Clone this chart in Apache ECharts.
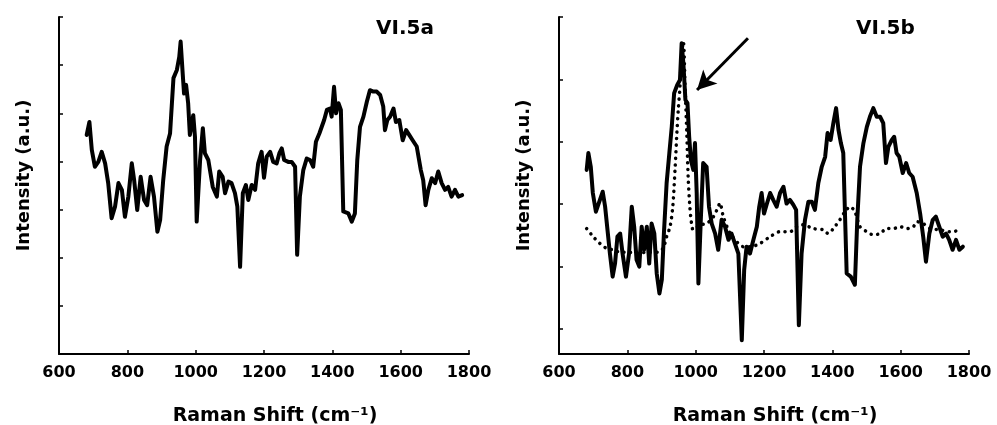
<!DOCTYPE html>
<html>
<head>
<meta charset="utf-8">
<script src="https://cdn.jsdelivr.net/npm/echarts@6/dist/echarts.min.js"></script>
<style>
  html, body { margin: 0; padding: 0; background: #fff; }
  #chart { width: 997px; height: 425px; }
</style>
</head>
<body>
<div id="chart"></div>
<script>
// Panel VI.5a: Raman spectrum (cm-1) and intensity (a.u.)
const shiftA = [681,689,696,705,715,725,735,744,754,764,774,784,793,803,813,820,829,839,849,858,868,878,888,896,905,915,925,935,945,952,956,962,966,972,978,983,993,998,1003,1013,1021,1027,1037,1050,1062,1069,1079,1086,1096,1105,1115,1122,1130,1138,1147,1154,1164,1174,1183,1193,1200,1208,1218,1227,1237,1245,1252,1259,1271,1281,1291,1297,1305,1315,1325,1335,1344,1352,1362,1369,1376,1384,1393,1398,1405,1411,1418,1425,1432,1447,1457,1466,1473,1481,1491,1501,1510,1520,1530,1540,1549,1554,1561,1569,1579,1586,1596,1606,1616,1625,1635,1647,1659,1666,1673,1681,1691,1701,1710,1720,1730,1739,1749,1759,1769,1780];
const intensityA = [455,482,424,389,399,420,396,355,282,306,355,341,285,327,396,361,299,368,320,309,368,327,254,278,361,431,458,573,590,617,649,583,541,559,521,455,496,451,275,403,469,417,403,347,327,379,368,334,358,355,334,306,181,334,351,320,351,341,396,420,366,410,420,399,396,417,427,403,399,399,389,206,327,382,406,403,389,441,458,472,486,507,510,493,555,500,521,507,296,292,275,292,403,472,493,524,548,545,545,538,514,465,486,493,510,482,486,444,465,455,444,431,382,361,309,341,365,355,379,355,341,347,327,341,327,330];

// Panel VI.5b: sample spectrum (solid)
const shiftB = [681,686,693,699,708,718,728,735,743,749,757,764,771,779,786,796,805,813,820,827,835,842,849,857,864,871,879,886,894,901,907,915,923,930,937,946,954,959,964,970,976,981,986,993,998,1003,1008,1015,1022,1032,1039,1047,1057,1066,1076,1086,1096,1105,1115,1125,1135,1142,1149,1159,1169,1179,1186,1193,1200,1208,1218,1227,1237,1247,1257,1266,1276,1286,1294,1302,1310,1320,1330,1340,1349,1359,1369,1379,1386,1395,1403,1411,1418,1425,1432,1442,1454,1466,1473,1481,1491,1501,1510,1520,1530,1540,1549,1557,1564,1574,1581,1588,1596,1606,1616,1625,1635,1647,1657,1666,1674,1684,1694,1703,1713,1723,1733,1742,1752,1762,1772,1782];
const intensityB = [295,322,300,258,228,244,260,236,193,161,124,145,188,193,161,124,161,236,204,151,140,204,167,204,145,209,193,129,97,119,193,274,322,364,418,431,439,498,466,407,402,348,311,295,338,258,113,215,306,300,236,209,193,167,215,204,183,193,177,161,22,135,172,161,183,204,236,258,225,240,258,247,236,258,268,241,247,239,231,46,161,215,244,244,231,274,300,316,354,343,370,394,359,338,322,129,124,111,215,300,338,364,380,394,380,380,370,306,332,343,348,322,316,290,306,290,284,258,225,188,148,193,215,220,204,188,193,183,167,183,167,172];

// Panel VI.5b: reference spectrum (dotted)
const shiftRef = [681,700,720,740,759,780,800,830,860,890,905,915,925,933,940,945,949,954,959,964,969,974,978,983,988,993,1013,1032,1052,1066,1071,1081,1100,1120,1139,1159,1188,1218,1247,1276,1296,1315,1344,1374,1388,1403,1422,1437,1452,1466,1481,1501,1520,1540,1559,1579,1598,1618,1637,1647,1666,1686,1715,1744,1774];
const intensityRef = [201,188,177,169,167,163,163,162,163,163,170,188,204,236,300,354,391,428,482,500,428,354,284,236,209,199,207,209,220,236,242,220,194,180,172,172,177,188,196,196,204,207,201,199,193,201,215,228,236,228,204,196,191,193,201,201,204,201,204,212,209,201,199,196,198];

// Arrow pointing at the 960 cm-1 band in VI.5b (data coordinates)
const arrowFrom = [1153, 506];
const arrowTo = [1004, 423];

const panelTitles = ['VI.5a', 'VI.5b'];
const xTicks = { min: 600, max: 1800, step: 200 };
const yTicksA = { min: 0, max: 700, step: 100 };
const yRangeB = { min: 0, max: 540 };
const yTickValuesB = [40, 140, 240, 340, 440, 540];

const FONT = 'DejaVu Sans';
const pairs = (xs, ys) => xs.map((x, i) => [x, ys[i]]);

const axisLine = { show: true, onZero: false, lineStyle: { color: '#000', width: 2 } };
const tick = { show: true, inside: true, length: 4, lineStyle: { color: '#000', width: 1.5 } };

function xAxisFor(gridIndex) {
  return {
    type: 'value', gridIndex,
    min: xTicks.min, max: xTicks.max, interval: xTicks.step,
    axisLine, axisTick: tick,
    axisLabel: {
      color: '#000', fontFamily: FONT, fontWeight: 'bold', fontSize: 16, margin: 11,
      formatter: v => String(v)
    },
    splitLine: { show: false },
    name: 'Raman Shift (cm\u207B\u00B9)', nameLocation: 'middle', nameGap: 53,
    nameTextStyle: { color: '#000', fontFamily: FONT, fontWeight: 'bold', fontSize: 19, padding: [0, 0, 0, 22] }
  };
}

const yName = {
  name: 'Intensity (a.u.)', nameLocation: 'middle', nameGap: 26,
  nameTextStyle: { color: '#000', fontFamily: FONT, fontWeight: 'bold', fontSize: 18, padding: [0, 0, 0, 20] }
};

const chart = echarts.init(document.getElementById('chart'), null, { renderer: 'canvas' });
chart.setOption({
  animation: false,
  backgroundColor: '#fff',
  title: panelTitles.map((t, i) => ({
    text: t, left: i === 0 ? 376 : 856, top: 19, padding: 0,
    textStyle: { color: '#000', fontFamily: FONT, fontWeight: 'bold', fontSize: 20 }
  })),
  grid: [
    { left: 59, top: 17, width: 410, height: 337, outerBoundsMode: 'none' },
    { left: 559, top: 17, width: 410, height: 337, outerBoundsMode: 'none' }
  ],
  xAxis: [xAxisFor(0), xAxisFor(1)],
  yAxis: [
    Object.assign({
      type: 'value', gridIndex: 0, min: yTicksA.min, max: yTicksA.max, interval: yTicksA.step,
      axisLine, axisTick: tick, axisLabel: { show: false }, splitLine: { show: false }
    }, yName),
    Object.assign({
      type: 'value', gridIndex: 1, min: yRangeB.min, max: yRangeB.max,
      axisLine, axisTick: Object.assign({ customValues: yTickValuesB }, tick),
      axisLabel: { show: false }, splitLine: { show: false }
    }, yName)
  ],
  series: [
    {
      type: 'line', xAxisIndex: 0, yAxisIndex: 0, data: pairs(shiftA, intensityA),
      showSymbol: false, lineStyle: { color: '#000', width: 4, join: 'round', cap: 'round' }
    },
    {
      type: 'line', xAxisIndex: 1, yAxisIndex: 1, data: pairs(shiftRef, intensityRef),
      showSymbol: false, smooth: 0.3,
      lineStyle: { color: '#000', width: 3.5, type: [0.1, 6.5], cap: 'round', join: 'round' }
    },
    {
      type: 'line', xAxisIndex: 1, yAxisIndex: 1, data: pairs(shiftB, intensityB),
      showSymbol: false, lineStyle: { color: '#000', width: 4, join: 'round', cap: 'round' },
      markLine: {
        silent: true, symbol: ['none', 'arrow'], symbolSize: [15, 19],
        label: { show: false },
        lineStyle: { color: '#000', width: 3, type: 'solid' },
        data: [[{ coord: arrowFrom }, { coord: arrowTo }]]
      }
    }
  ]
});
</script>
</body>
</html>
